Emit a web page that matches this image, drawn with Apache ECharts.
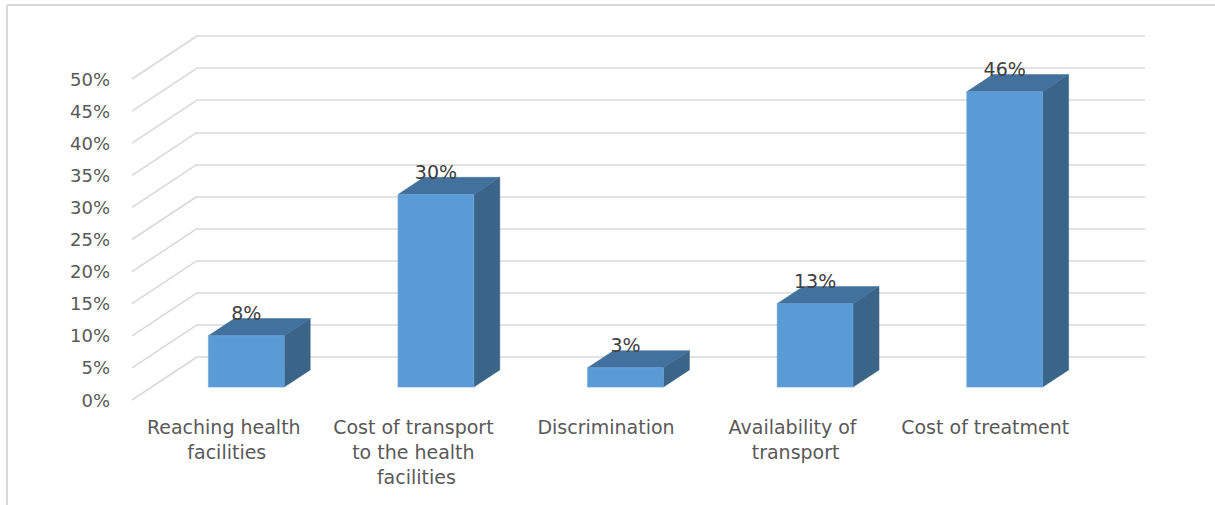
<!DOCTYPE html>
<html>
<head>
<meta charset="utf-8">
<script src="https://cdn.jsdelivr.net/npm/echarts@6/dist/echarts.min.js"></script>
<style>
html,body{margin:0;padding:0;background:#ffffff;}
#chart{width:1215px;height:505px;}
</style>
</head>
<body>
<div id="chart"></div>
<script>
// ---- data ----
const categories = [
  "Reaching health facilities",
  "Cost of transport to the health facilities",
  "Discrimination",
  "Availability of transport",
  "Cost of treatment"
];
const values = [0.08, 0.30, 0.03, 0.13, 0.46];
const valueLabels = ["8%", "30%", "3%", "13%", "46%"];
const yTicks = [0, 0.05, 0.10, 0.15, 0.20, 0.25, 0.30, 0.35, 0.40, 0.45, 0.50];

// ---- 3D look (style only) ----
const WALL_DX = -65, WALL_DY = 43;      // front edge of floor relative to back wall
const BAR_FRONT = 0.70, BAR_BACK = 0.30; // depth position of bar faces (fraction toward front)
const BAR_W = 0.40;                      // bar width as fraction of category band
const FONT = "DejaVu Sans";

const chart = echarts.init(document.getElementById('chart'), null, {renderer: 'svg'});

function renderGrid(params, api) {
  const p = api.coord([0, api.value(0)]);
  const x = params.coordSys.x;
  return {
    type: 'line',
    shape: {x1: x, y1: p[1], x2: x + WALL_DX, y2: p[1] + WALL_DY},
    style: {stroke: '#d9d9d9', lineWidth: 1.6},
    silent: true
  };
}

function renderBar(params, api) {
  const i = api.value(0), v = api.value(1);
  const base = api.coord([i, 0]);
  const top = api.coord([i, v]);
  const band = api.size([1, 0])[0];
  const w = band * BAR_W;
  const fx = WALL_DX * BAR_FRONT, fy = WALL_DY * BAR_FRONT;
  const bx = WALL_DX * BAR_BACK, by = WALL_DY * BAR_BACK;
  const ddx = bx - fx, ddy = by - fy;
  const x0 = base[0] + fx - w / 2, x1 = x0 + w;
  const yb = base[1] + fy, yt = top[1] + fy;
  return {
    type: 'group',
    children: [
      {type: 'polygon', shape: {points: [[x1, yt], [x1 + ddx, yt + ddy], [x1 + ddx, yb + ddy], [x1, yb]]},
       style: {fill: '#3A6488', stroke: '#3A6488', lineWidth: 0.5}},
      {type: 'polygon', shape: {points: [[x0, yt], [x1, yt], [x1 + ddx, yt + ddy], [x0 + ddx, yt + ddy]]},
       style: {fill: '#41719C', stroke: '#41719C', lineWidth: 0.5}},
      {type: 'rect', shape: {x: x0, y: yt, width: w, height: yb - yt},
       style: {fill: '#5B9BD5', stroke: '#6aa5dc', lineWidth: 0.6}},
      {type: 'text', x: x0 + w / 2, y: yt - 23,
       style: {text: valueLabels[params.dataIndex], fill: '#404040', font: '19px "' + FONT + '"',
               align: 'center', verticalAlign: 'middle'}}
    ]
  };
}

const option = {
  animation: false,
  backgroundColor: '#ffffff',
  grid: [
    {left: 197, right: 70, top: 36, bottom: 148},   // back wall
    {left: 132, right: 135, top: 79, bottom: 105}   // front edge (labels)
  ],
  xAxis: [
    {type: 'category', gridIndex: 0, data: categories,
     axisLine: {show: false}, axisTick: {show: false}, axisLabel: {show: false}},
    {type: 'category', gridIndex: 1, data: categories,
     axisLine: {show: false}, axisTick: {show: false},
     axisLabel: {color: '#595959', fontFamily: FONT, fontSize: 19, lineHeight: 25,
                 margin: 14, width: 176, overflow: 'break', interval: 0}}
  ],
  yAxis: [
    {type: 'value', gridIndex: 0, min: 0, max: 0.5, interval: 0.05,
     axisLine: {show: false}, axisTick: {show: false}, axisLabel: {show: false},
     splitLine: {show: true, lineStyle: {color: '#d9d9d9', width: 1.6}}},
    {type: 'value', gridIndex: 1, min: 0, max: 0.5, interval: 0.05,
     axisLine: {show: false}, axisTick: {show: false}, splitLine: {show: false},
     axisLabel: {color: '#595959', fontFamily: FONT, fontSize: 18, margin: 22,
                 formatter: v => Math.round(v * 100) + '%'}}
  ],
  graphic: [
    {type: 'line', shape: {x1: 7, y1: 5, x2: 1215, y2: 5}, style: {stroke: '#d9d9d9', lineWidth: 2}},
    {type: 'line', shape: {x1: 7, y1: 5, x2: 7, y2: 505}, style: {stroke: '#d9d9d9', lineWidth: 2}}
  ],
  series: [
    {type: 'custom', name: 'grid', xAxisIndex: 0, yAxisIndex: 0, silent: true,
     data: yTicks.map(t => [t]), renderItem: renderGrid, z: 1},
    {type: 'custom', name: 'bars', xAxisIndex: 0, yAxisIndex: 0,
     data: values.map((v, i) => [i, v]), renderItem: renderBar, z: 5,
     encode: {x: 0, y: 1}}
  ]
};
chart.setOption(option);
</script>
</body>
</html>
